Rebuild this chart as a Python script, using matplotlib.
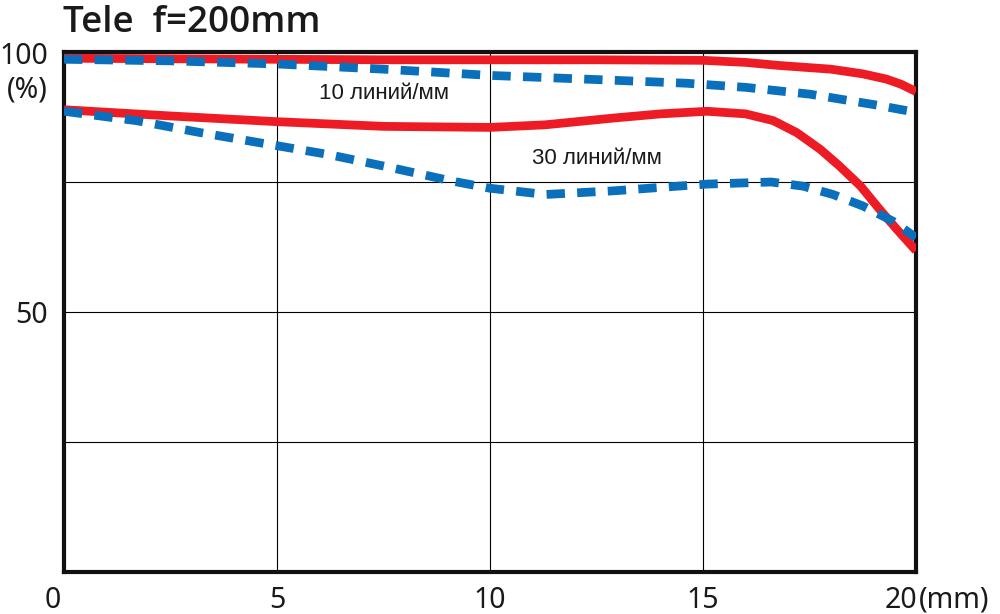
import matplotlib.pyplot as plt

# MTF readings, image height (mm) vs contrast (%)
x_r10 = [0, 2.5, 5, 7.5, 10, 12.5, 15, 16, 16.8, 18, 18.75, 19.3, 19.65, 20]
y_r10 = [98.8, 98.7, 98.6, 98.5, 98.5, 98.5, 98.4, 98.0, 97.4, 96.7, 95.8, 94.8, 93.8, 92.4]

x_b10 = [0, 2.5, 5, 7.5, 10, 12.5, 14.6, 16, 17.5, 19, 20]
y_b10 = [98.6, 98.3, 97.7, 96.7, 95.5, 94.7, 94.0, 93.2, 91.9, 89.9, 88.4]

x_r30 = [0, 2.5, 5, 7.5, 10, 11.3, 12.9, 14, 15.1, 16, 16.65, 17.2, 17.75, 18.2, 18.7, 19.15, 19.55, 20]
y_r30 = [88.9, 87.7, 86.6, 85.7, 85.5, 86.0, 87.3, 88.1, 88.6, 88.1, 86.8, 84.5, 81.3, 78.1, 74.2, 69.7, 65.9, 61.8]

x_b30 = [0, 1.7, 3.2, 4.7, 6.2, 7.6, 9.1, 10, 11.3, 12.9, 14.4, 15.1, 16.6, 17.35, 18.05, 18.75, 19.45, 20]
y_b30 = [88.6, 86.8, 84.5, 82.4, 80.3, 77.9, 75.2, 73.8, 72.6, 73.3, 74.2, 74.6, 75.0, 74.2, 72.6, 70.4, 67.5, 64.3]

x_labels = ['5', '10', '15']
x_label_pos = [5, 10, 15]

red = '#ed1c24'
blue = '#0a70bb'
ink = '#1a1a1a'

fig = plt.figure(figsize=(10, 6.14), dpi=100)
ax = fig.add_axes([0.064, 0.0684, 0.852, 0.8469])

ax.plot(x_r10, y_r10, color=red, lw=6.3, solid_capstyle='butt', solid_joinstyle='round', zorder=3)
ax.plot(x_r30, y_r30, color=red, lw=6.3, solid_capstyle='butt', solid_joinstyle='round', zorder=3)
ax.plot(x_b10, y_b10, color=blue, lw=6.3, dashes=(2.1, 1.4), dash_capstyle='butt', zorder=4)
ax.plot(x_b30, y_b30, color=blue, lw=6.3, dashes=(2.1, 1.4), dash_capstyle='butt', zorder=4)

ax.set_xlim(0, 20)
ax.set_ylim(0, 100)
ax.set_xticks([0, 5, 10, 15, 20])
ax.set_yticks([0, 25, 50, 75, 100])
ax.grid(True, color='black', lw=0.8)
ax.tick_params(length=0, labelleft=False, labelbottom=False)
for s in ax.spines.values():
    s.set_linewidth(3)
    s.set_color('#111111')

big = dict(family='Noto Sans', fontsize=20.5, color=ink, va='baseline', clip_on=False)

# x axis labels
for v, lab in zip(x_label_pos, x_labels):
    ax.text(v, -6.9, lab, ha='center', **big)
ax.text(-0.26, -6.9, '0', ha='center', **big)
ax.text(19.65, -6.9, '20', ha='center', **big)
ax.text(20.07, -6.9, '(mm)', ha='left', **big)

# y axis labels
ax.text(-0.38, 97.7, '100', ha='right', **big)
ax.text(-0.38, 91.3, '(%)', ha='right', **big)
ax.text(-0.38, 47.8, '50', ha='right', **big)

ax.text(7.51, 90.9, '10 линий/мм', ha='center', va='baseline', fontsize=16,
        family='Liberation Sans', color=ink)
ax.text(12.51, 78.4, '30 линий/мм', ha='center', va='baseline', fontsize=16,
        family='Liberation Sans', color=ink)

fig.text(0.063, 1 - 32 / 614, 'Tele  f=200mm', ha='left', va='baseline', fontsize=26.5,
         family='Open Sans', weight='semibold', color=ink)

fig.savefig('out.png', dpi=100)
